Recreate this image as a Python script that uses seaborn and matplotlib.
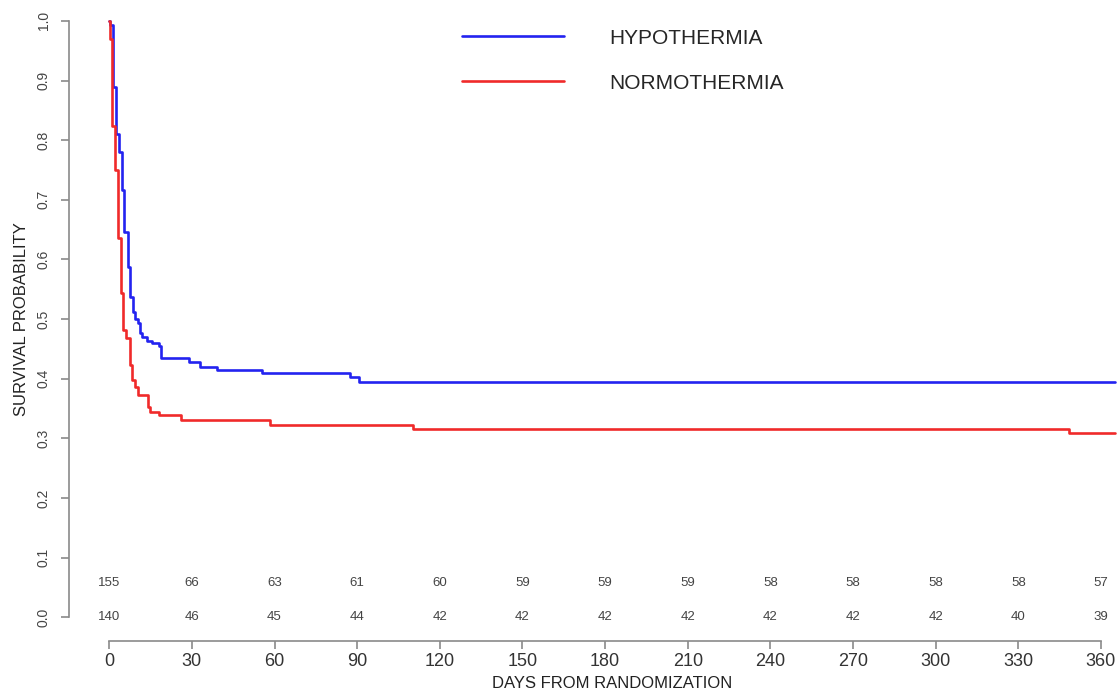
import numpy as np
import pandas as pd
import matplotlib
matplotlib.use("Agg")
import matplotlib.pyplot as plt
import seaborn as sns

# Kaplan-Meier step points (value holds from each day onward)
hypo_days = [0, 0.3, 1.2, 2.4, 3.6, 4.6, 5.3, 6.7, 7.6, 8.8, 9.5, 10.3, 11.2, 12.0, 13.7,
             15.5, 17.9, 18.8, 29.0, 33.0, 39.0, 55.4, 87.4, 90.5, 365]
hypo_surv = [1.0, 0.993, 0.889, 0.81, 0.78, 0.716, 0.646, 0.587, 0.537, 0.512, 0.50,
             0.493, 0.476, 0.47, 0.463, 0.459, 0.455, 0.434, 0.428, 0.42, 0.414, 0.409,
             0.402, 0.395, 0.395]

norm_days = [0, 0.3, 1.0, 2.2, 3.2, 4.1, 5.1, 6.1, 7.4, 8.4, 9.4, 10.3, 14.2, 14.9,
             18.0, 26.0, 58.4, 110.2, 348.4, 365]
norm_surv = [1.0, 0.97, 0.823, 0.75, 0.636, 0.543, 0.482, 0.468, 0.423, 0.398, 0.386,
             0.372, 0.352, 0.344, 0.339, 0.331, 0.322, 0.315, 0.308, 0.308]

groups = ["HYPOTHERMIA", "NORMOTHERMIA"]
colors = ["#2323f0", "#f02a2a"]

# numbers at risk
risk_days = [0, 30, 60, 90, 120, 150, 180, 210, 240, 270, 300, 330, 360]
hypo_risk = [155, 66, 63, 61, 60, 59, 59, 59, 58, 58, 58, 58, 57]
norm_risk = [140, 46, 45, 44, 42, 42, 42, 42, 42, 42, 42, 40, 39]

df = pd.concat([
    pd.DataFrame({"day": hypo_days, "surv": hypo_surv, "group": groups[0]}),
    pd.DataFrame({"day": norm_days, "surv": norm_surv, "group": groups[1]}),
])

sns.set_style("white")
plt.rcParams["font.family"] = ["Liberation Sans", "DejaVu Sans"]

fig = plt.figure(figsize=(11.2, 6.92), dpi=100)
ax = fig.add_axes([0.0616, 0.0737, 0.9696, 0.9306])

sns.lineplot(data=df, x="day", y="surv", hue="group", palette=colors,
             drawstyle="steps-post", estimator=None, linewidth=1.9,
             legend=False, ax=ax)

ax.set_xlim(-14.6, 379.6)
ax.set_ylim(-0.04, 1.04)

gray = "#8a8a8a"
for side in ["top", "right"]:
    ax.spines[side].set_visible(False)
ax.spines["left"].set_bounds(0, 1)
ax.spines["bottom"].set_bounds(0, 360)
for side in ["left", "bottom"]:
    ax.spines[side].set_color(gray)
    ax.spines[side].set_linewidth(1.2)

ax.set_xticks(risk_days)
ax.set_yticks(np.round(np.arange(0, 1.01, 0.1), 1))
ax.set_yticklabels([f"{v:.1f}" for v in np.arange(0, 1.01, 0.1)], rotation=90, va="center")
ax.tick_params(axis="x", bottom=True, direction="out", length=6, width=1.2, color=gray,
               labelsize=13, labelcolor="#333333", pad=3)
ax.tick_params(axis="y", left=True, direction="out", length=6, width=1.2, color=gray,
               labelsize=10, labelcolor="#444444", pad=7)

ax.set_xlabel("DAYS FROM RANDOMIZATION", fontsize=12, color="#222222", labelpad=4)
ax.set_ylabel("SURVIVAL PROBABILITY", fontsize=12, color="#222222", labelpad=6)

for d, h, n in zip(risk_days, hypo_risk, norm_risk):
    ax.text(d, 0.057, str(h), ha="center", va="center", fontsize=9.5, color="#444444")
    ax.text(d, 0.0, str(n), ha="center", va="center", fontsize=9.5, color="#444444")

handles = ax.get_lines()[:2]
ax.legend(handles, groups, frameon=False, fontsize=15, handlelength=4.9,
          handletextpad=2.2, labelspacing=1.25,
          loc="upper left", bbox_to_anchor=(443 / 1120, 1 - 10 / 692),
          bbox_transform=fig.transFigure)

fig.savefig("out.png", dpi=100)
